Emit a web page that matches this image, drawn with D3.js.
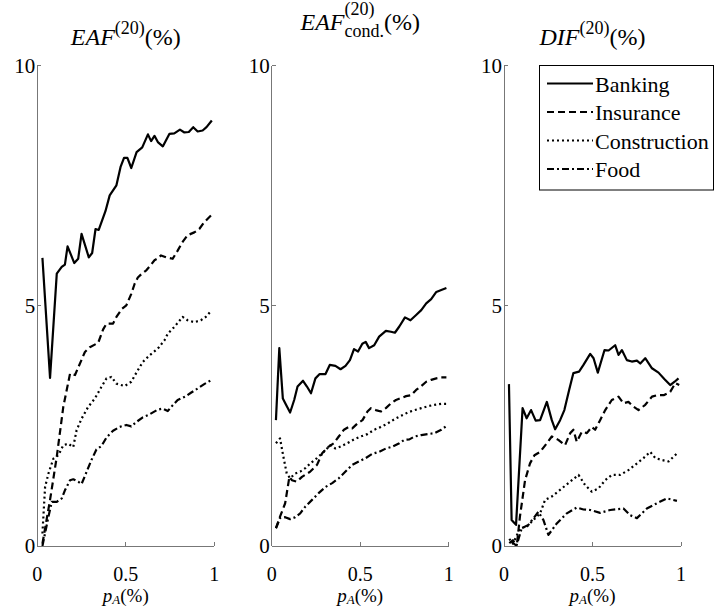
<!DOCTYPE html>
<html lang="en">
<head>
  <meta charset="UTF-8" />
  <title>EAF / DIF by sector</title>
  <script src="https://d3js.org/d3.v7.min.js"></script>
  <style>
    body {
      margin: 0;
      background: #fff;
    }
    svg {
      display: block;
    }
    svg text {
      font-family: "Liberation Serif", "Times New Roman", Times, "DejaVu Serif", serif;
    }
    .axis-line {
      stroke: #777;
      stroke-width: 1;
      shape-rendering: crispEdges;
    }
    .series {
      fill: none;
      stroke: #000;
      stroke-width: 2.2;
      stroke-linejoin: round;
    }
  </style>
</head>
<body>

<svg id="chart" width="715" height="607"></svg>

<script>
/* ---------------- DATA ---------------- */

const sectors = ["Banking", "Insurance", "Construction", "Food"];
const xTicks = [0, 0.5, 1];
const yTicks = [0, 5, 10];

// panel 1: EAF(20)
const eafBanking = [[0.029,6.0],[0.072,3.5],[0.11,5.67],[0.138,5.81],[0.156,5.86],[0.171,6.24],[0.209,5.89],[0.231,5.98],[0.25,6.5],[0.291,6.01],[0.31,6.1],[0.329,6.6],[0.347,6.58],[0.385,6.97],[0.409,7.3],[0.447,7.51],[0.471,7.9],[0.49,8.08],[0.509,8.08],[0.531,7.87],[0.561,8.2],[0.593,8.3],[0.625,8.57],[0.643,8.43],[0.662,8.54],[0.681,8.41],[0.709,8.32],[0.746,8.58],[0.774,8.59],[0.806,8.67],[0.831,8.61],[0.856,8.62],[0.881,8.72],[0.906,8.63],[0.934,8.65],[0.956,8.72],[0.986,8.86]];
const eafInsurance = [[0.029,0.05],[0.072,0.96],[0.11,1.86],[0.147,2.9],[0.185,3.59],[0.213,3.56],[0.269,4.04],[0.297,4.14],[0.344,4.23],[0.372,4.51],[0.391,4.63],[0.428,4.63],[0.447,4.77],[0.479,4.94],[0.503,5.01],[0.531,5.25],[0.55,5.46],[0.568,5.59],[0.591,5.67],[0.616,5.74],[0.643,5.86],[0.662,5.95],[0.677,5.98],[0.699,6.05],[0.728,6.01],[0.765,5.98],[0.793,6.15],[0.821,6.33],[0.849,6.47],[0.887,6.53],[0.915,6.6],[0.943,6.74],[0.981,6.88]];
const eafConstruction = [[0.029,0.26],[0.044,1.23],[0.063,1.51],[0.091,1.82],[0.119,1.89],[0.147,2.1],[0.175,2.13],[0.203,2.06],[0.222,2.41],[0.25,2.65],[0.288,2.9],[0.325,3.07],[0.362,3.31],[0.391,3.49],[0.419,3.52],[0.447,3.38],[0.494,3.33],[0.531,3.42],[0.568,3.66],[0.596,3.83],[0.634,3.97],[0.681,4.11],[0.718,4.28],[0.737,4.42],[0.774,4.56],[0.821,4.77],[0.849,4.7],[0.887,4.66],[0.924,4.7],[0.952,4.77],[0.981,4.89]];
const eafFood = [[0.029,0],[0.063,0.61],[0.082,0.92],[0.11,0.92],[0.138,0.99],[0.156,1.16],[0.185,1.37],[0.203,1.39],[0.231,1.34],[0.25,1.29],[0.278,1.54],[0.306,1.79],[0.334,2.01],[0.362,2.08],[0.391,2.26],[0.428,2.4],[0.465,2.48],[0.503,2.52],[0.531,2.49],[0.559,2.58],[0.596,2.68],[0.634,2.74],[0.681,2.84],[0.709,2.86],[0.737,2.81],[0.765,2.93],[0.793,3.04],[0.84,3.12],[0.868,3.19],[0.906,3.28],[0.943,3.37],[0.981,3.45]];

// panel 2: EAF(20) cond.
const condBanking = [[0.024,2.62],[0.043,4.12],[0.063,3.07],[0.081,2.94],[0.104,2.78],[0.127,3.04],[0.146,3.32],[0.177,3.44],[0.199,3.32],[0.222,3.18],[0.247,3.49],[0.271,3.58],[0.304,3.58],[0.328,3.77],[0.36,3.75],[0.389,3.68],[0.417,3.75],[0.442,3.87],[0.465,4.1],[0.488,4.05],[0.512,4.21],[0.531,4.25],[0.55,4.12],[0.579,4.18],[0.607,4.36],[0.645,4.48],[0.674,4.46],[0.696,4.44],[0.721,4.57],[0.753,4.76],[0.784,4.7],[0.816,4.81],[0.845,4.91],[0.873,5.05],[0.901,5.14],[0.93,5.29],[0.958,5.33],[0.987,5.37]];
const condInsurance = [[0.024,0.37],[0.047,0.61],[0.076,0.89],[0.1,1.44],[0.114,1.37],[0.142,1.34],[0.171,1.44],[0.218,1.55],[0.256,1.69],[0.285,1.93],[0.322,2.07],[0.351,2.14],[0.379,2.28],[0.408,2.42],[0.436,2.48],[0.455,2.45],[0.484,2.55],[0.513,2.62],[0.541,2.8],[0.56,2.87],[0.588,2.83],[0.617,2.8],[0.645,2.87],[0.674,2.97],[0.702,3.04],[0.731,3.08],[0.759,3.12],[0.788,3.14],[0.816,3.25],[0.845,3.33],[0.873,3.42],[0.901,3.46],[0.93,3.49],[0.958,3.51],[0.987,3.51]];
const condConstruction = [[0.024,2.14],[0.047,2.24],[0.066,1.86],[0.085,1.51],[0.104,1.41],[0.133,1.51],[0.161,1.55],[0.19,1.62],[0.218,1.72],[0.256,1.83],[0.294,1.96],[0.332,2.1],[0.36,2.03],[0.389,2.07],[0.427,2.14],[0.465,2.22],[0.503,2.28],[0.541,2.33],[0.579,2.42],[0.617,2.48],[0.655,2.55],[0.693,2.64],[0.731,2.71],[0.769,2.78],[0.807,2.83],[0.845,2.87],[0.883,2.91],[0.92,2.94],[0.958,2.96],[0.987,2.96]];
const condFood = [[0.024,0.37],[0.047,0.58],[0.076,0.6],[0.104,0.56],[0.133,0.6],[0.161,0.68],[0.19,0.82],[0.228,0.96],[0.265,1.1],[0.304,1.23],[0.342,1.31],[0.379,1.41],[0.417,1.55],[0.455,1.69],[0.493,1.76],[0.531,1.83],[0.569,1.92],[0.607,1.96],[0.645,2.03],[0.683,2.07],[0.721,2.14],[0.749,2.21],[0.778,2.22],[0.807,2.28],[0.845,2.31],[0.883,2.33],[0.92,2.35],[0.958,2.42],[0.987,2.5]];

// panel 3: DIF(20)
const difBanking = [[0.028,3.37],[0.043,0.54],[0.068,0.44],[0.105,2.87],[0.128,2.66],[0.153,2.83],[0.179,2.61],[0.204,2.62],[0.242,3.0],[0.27,2.62],[0.289,2.43],[0.317,2.62],[0.341,2.83],[0.368,3.25],[0.392,3.6],[0.424,3.63],[0.449,3.77],[0.487,4.0],[0.506,3.91],[0.53,3.61],[0.568,4.08],[0.591,4.07],[0.628,4.18],[0.647,3.98],[0.666,4.08],[0.694,3.87],[0.722,3.84],[0.751,3.86],[0.77,3.8],[0.798,3.91],[0.836,3.7],[0.873,3.61],[0.907,3.47],[0.939,3.35],[0.964,3.42],[0.986,3.49]];
const difInsurance = [[0.04,0.1],[0.072,0],[0.09,0.61],[0.119,1.37],[0.147,1.72],[0.172,1.89],[0.204,1.96],[0.242,2.14],[0.27,2.28],[0.307,2.21],[0.345,2.1],[0.374,2.35],[0.392,2.42],[0.411,2.17],[0.44,2.38],[0.468,2.35],[0.496,2.48],[0.515,2.42],[0.543,2.62],[0.572,2.83],[0.609,3.04],[0.647,3.11],[0.675,2.97],[0.703,3.0],[0.732,2.9],[0.76,2.83],[0.798,2.94],[0.836,3.11],[0.864,3.14],[0.902,3.14],[0.939,3.21],[0.968,3.39],[0.99,3.35]];
const difConstruction = [[0.03,0.15],[0.05,0.05],[0.07,0.2],[0.09,0.37],[0.128,0.4],[0.166,0.54],[0.204,0.68],[0.232,0.96],[0.27,1.03],[0.317,1.17],[0.374,1.34],[0.421,1.48],[0.458,1.27],[0.496,1.13],[0.534,1.2],[0.572,1.37],[0.609,1.48],[0.656,1.48],[0.703,1.58],[0.741,1.69],[0.788,1.83],[0.826,1.96],[0.855,1.83],[0.892,1.79],[0.93,1.76],[0.958,1.86],[0.986,1.96]];
const difFood = [[0.03,0.06],[0.05,0.12],[0.072,0.02],[0.1,0.37],[0.138,0.44],[0.194,0.71],[0.223,0.54],[0.251,0.23],[0.298,0.47],[0.355,0.68],[0.411,0.8],[0.449,0.76],[0.487,0.75],[0.543,0.69],[0.6,0.75],[0.675,0.78],[0.713,0.64],[0.751,0.58],[0.807,0.78],[0.864,0.89],[0.921,0.99],[0.977,0.94]];

/* ---------------- LAYOUT ---------------- */

const dashes = [null, "7,4", "2,3", "7,3,2,3"];
const plotTop = 65.7, plotBottom = 546, plotW = 177;
const panels = [
  { left: 37.3, title: "eaf", series: [eafBanking, eafInsurance, eafConstruction, eafFood] },
  { left: 271.7, title: "cond", series: [condBanking, condInsurance, condConstruction, condFood] },
  { left: 504, title: "dif", series: [difBanking, difInsurance, difConstruction, difFood] }
];

const svg = d3.select("#chart");
const y = d3.scaleLinear().domain([0, 10]).range([plotBottom, plotTop]);

/* ---------------- PANELS ---------------- */

panels.forEach(p => {
  const x = d3.scaleLinear().domain([0, 1]).range([p.left, p.left + plotW]);
  const g = svg.append("g");

  // series
  const line = d3.line().x(d => x(d[0])).y(d => y(d[1]));
  p.series.forEach((s, i) => {
    g.append("path")
      .attr("class", "series")
      .attr("d", line(s))
      .attr("stroke-dasharray", dashes[i]);
  });

  // axes (left + bottom only, ticks inward)
  g.append("line").attr("class", "axis-line")
    .attr("x1", x(0)).attr("x2", x(0)).attr("y1", y(0)).attr("y2", y(10));
  g.append("line").attr("class", "axis-line")
    .attr("x1", x(0)).attr("x2", x(1)).attr("y1", y(0)).attr("y2", y(0));

  yTicks.forEach(t => {
    g.append("line").attr("class", "axis-line")
      .attr("x1", x(0)).attr("x2", x(0) + 4).attr("y1", y(t)).attr("y2", y(t));
    g.append("text")
      .attr("x", x(0) - 2).attr("y", y(t) + 7)
      .attr("text-anchor", "end").attr("font-size", 21)
      .text(t);
  });
  xTicks.forEach(t => {
    g.append("line").attr("class", "axis-line")
      .attr("x1", x(t)).attr("x2", x(t)).attr("y1", y(0)).attr("y2", y(0) - 4);
    g.append("text")
      .attr("x", x(t)).attr("y", 580.5)
      .attr("text-anchor", "middle").attr("font-size", 20)
      .text(t);
  });

  // x label p_A(%)
  const cx = p.left + plotW / 2;
  const xl = g.append("text").attr("x", cx).attr("y", 602)
    .attr("text-anchor", "middle").attr("font-size", 19);
  xl.append("tspan").attr("font-style", "italic").text("p");
  xl.append("tspan").attr("font-style", "italic").attr("font-size", 13).attr("dy", 2).text("A");
  xl.append("tspan").attr("dy", -2).text("(%)");

  // title
  drawTitle(g, p.title, cx);
});

function drawTitle(g, kind, cx) {
  const t = g.append("g");
  const base = kind === "cond" ? 30 : 45;
  let pos = 0;
  const put = (txt, size, dy, italic) => {
    const el = t.append("text").attr("x", pos).attr("y", base + dy)
      .attr("font-size", size).attr("font-style", italic ? "italic" : "normal").text(txt);
    return el.node().getComputedTextLength();
  };
  pos += put(kind === "dif" ? "DIF" : "EAF", 24, 0, true);
  if (kind === "cond") {
    const w1 = put("(20)", 18, -15, false);
    const w2 = put("cond.", 18, 7, false);
    pos += Math.max(w1, w2);
  } else {
    pos += put("(20)", 18, -11, false);
  }
  pos += put("(%)", 24, 0, false);
  t.attr("transform", `translate(${cx - pos / 2},0)`);
}

/* ---------------- LEGEND ---------------- */

const leg = svg.append("g");
leg.append("rect")
  .attr("x", 539.5).attr("y", 65.5).attr("width", 174).attr("height", 124.5)
  .attr("fill", "#fff").attr("stroke", "#000").attr("stroke-width", 1);
sectors.forEach((s, i) => {
  const ly = 83.5 + i * 28.5;
  leg.append("line")
    .attr("class", "series")
    .attr("x1", 547).attr("x2", 593).attr("y1", ly).attr("y2", ly)
    .attr("stroke-dasharray", dashes[i]);
  leg.append("text")
    .attr("x", 595).attr("y", ly + 8)
    .attr("font-size", 22)
    .text(s);
});
</script>

</body>
</html>
